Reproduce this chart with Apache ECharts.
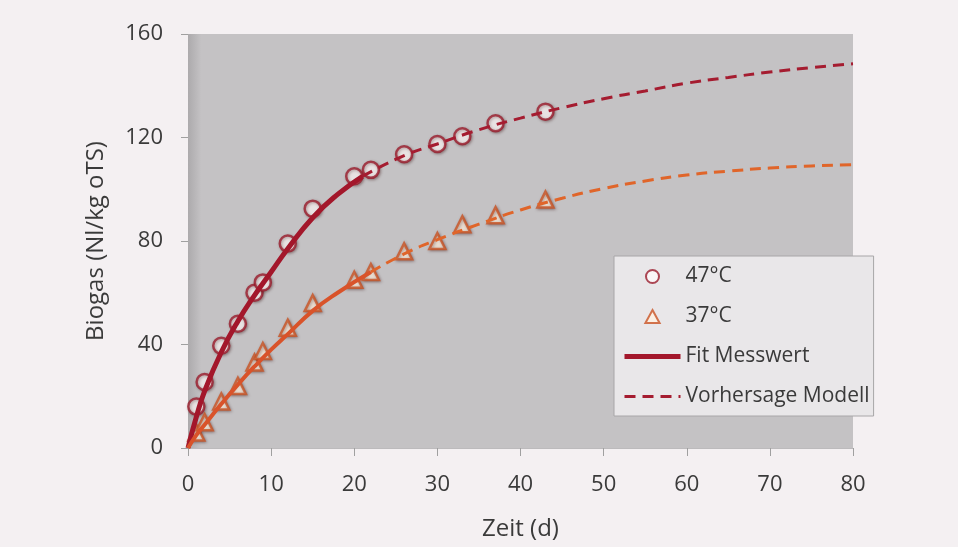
<!DOCTYPE html>
<html>
<head>
<meta charset="utf-8">
<script src="https://cdn.jsdelivr.net/npm/echarts@6/dist/echarts.min.js"></script>
<style>
html, body { margin: 0; padding: 0; background: #f4f0f2; }
#main { width: 958px; height: 547px; }
</style>
</head>
<body>
<div id="main"></div>
<script>
var tage = [1, 2, 4, 6, 8, 9, 12, 15, 20, 22, 26, 30, 33, 37, 43];
var gas47 = [16, 25.5, 39.5, 48, 60, 64, 79, 92.5, 105, 107.5, 113.5, 117.5, 120.5, 125.5, 130];
var gas37 = [6, 10, 18, 24, 33, 37.5, 46.5, 56, 65, 68, 76, 80, 86.5, 90, 96];

// Fit-Kurven
var fitX47 = [0, 1, 2, 4, 6, 8, 10, 12, 15, 18, 21];
var fitY47 = [0, 12, 22, 37, 49, 59, 68, 77, 89, 98, 105];
var fitX37 = [0, 1, 2, 4, 6, 8, 10, 12, 15, 18, 22];
var fitY37 = [0, 5, 9, 17, 24.5, 31.5, 38, 44, 53, 60, 68];

// Modellvorhersage
var modX47 = [21, 26, 30, 35, 40, 45, 50, 55, 60, 65, 70, 75, 80];
var modY47 = [105, 113, 117.5, 123, 127.5, 131.5, 135, 138, 141, 143.2, 145.3, 147, 148.5];
var modX37 = [22, 26, 30, 35, 40, 45, 50, 55, 60, 65, 70, 75, 80];
var modY37 = [68, 75, 80.5, 86.5, 92, 96.5, 100.3, 103.2, 105.5, 107, 108.2, 109, 109.5];

var xTicks = { min: 0, max: 80, interval: 10 };
var yTicks = { min: 0, max: 160, interval: 40 };

function paare(xs, ys) {
    return xs.map(function (x, i) { return [x, ys[i]]; });
}

var schrift = 'Open Sans';
var textFarbe = '#3a3a3a';
var chart = echarts.init(document.getElementById('main'));

var option = {
    backgroundColor: '#f4f0f2',
    animation: false,
    grid: {
        left: 188, right: 105, top: 34, bottom: 99,
        show: true,
        borderWidth: 0,
        backgroundColor: new echarts.graphic.LinearGradient(0, 0, 1, 0, [
            { offset: 0, color: '#acaaac' },
            { offset: 0.02, color: '#c4c2c4' },
            { offset: 1, color: '#c4c2c4' }
        ])
    },
    xAxis: {
        type: 'value',
        min: xTicks.min, max: xTicks.max, interval: xTicks.interval,
        name: 'Zeit (d)',
        nameLocation: 'middle',
        nameGap: 69,
        nameTextStyle: { fontFamily: schrift, fontSize: 24, color: textFarbe },
        axisLine: { show: true, lineStyle: { color: '#bcbabc', width: 1 } },
        axisTick: { show: true, length: 8, lineStyle: { color: '#a0a0a0' } },
        axisLabel: { fontFamily: schrift, fontSize: 22, color: textFarbe, margin: 26 },
        splitLine: { show: false }
    },
    yAxis: {
        type: 'value',
        min: yTicks.min, max: yTicks.max, interval: yTicks.interval,
        name: 'Biogas (Nl/kg oTS)',
        nameLocation: 'middle',
        nameGap: 80,
        nameTextStyle: { fontFamily: schrift, fontSize: 24, color: textFarbe },
        axisLine: { show: false },
        axisTick: { show: true, length: 7, lineStyle: { color: '#a0a0a0' } },
        axisLabel: { fontFamily: schrift, fontSize: 22, color: textFarbe, margin: 25 },
        splitLine: { show: false }
    },
    legend: {
        orient: 'vertical',
        left: 614, top: 256,
        padding: [10, 4, 9, 8],
        itemWidth: 56, itemHeight: 13, itemGap: 19,
        backgroundColor: '#e9e7e9',
        borderColor: '#a8a6a8', borderWidth: 1,
        textStyle: { fontFamily: schrift, fontSize: 21, color: textFarbe },
        data: [
            { name: '47°C' },
            { name: '37°C', icon: 'path://M6,0L12,11L0,11Z' },
            { name: 'Fit Messwert', itemStyle: { opacity: 0 }, lineStyle: { width: 5 } },
            { name: 'Vorhersage Modell', itemStyle: { opacity: 0 }, lineStyle: { width: 3 } }
        ]
    },
    series: [
        {
            name: 'Vorhersage Modell', type: 'line', smooth: true, symbol: 'none',
            data: paare(modX47, modY47),
            lineStyle: { color: '#a51c30', width: 3, type: [11, 7] },
            itemStyle: { color: '#a51c30' }
        },
        {
            name: 'Modell 37', type: 'line', smooth: true, symbol: 'none',
            data: paare(modX37, modY37),
            lineStyle: { color: '#e0652a', width: 3, type: [11, 7] },
            itemStyle: { color: '#e0652a' }
        },
        {
            name: 'Fit Messwert', type: 'line', smooth: true, symbol: 'none',
            data: paare(fitX47, fitY47),
            lineStyle: { color: '#a3172b', width: 5 },
            itemStyle: { color: '#a3172b' }
        },
        {
            name: 'Fit 37', type: 'line', smooth: true, symbol: 'none',
            data: paare(fitX37, fitY37),
            lineStyle: { color: '#d9532a', width: 4 },
            itemStyle: { color: '#d9532a' }
        },
        {
            name: '47°C', type: 'scatter', symbol: 'circle', symbolSize: 16,
            data: paare(tage, gas47),
            itemStyle: {
                color: '#fefafa', borderColor: '#9a1c2c', borderWidth: 2.5,
                shadowBlur: 3, shadowColor: 'rgba(60,20,20,0.45)', shadowOffsetX: 1, shadowOffsetY: 1
            }
        },
        {
            name: '37°C', type: 'scatter', symbol: 'triangle', symbolSize: 16,
            symbolKeepAspect: true,
            data: paare(tage, gas37),
            itemStyle: {
                color: '#fff3e2', borderColor: '#c95424', borderWidth: 2.5,
                shadowBlur: 3, shadowColor: 'rgba(60,20,20,0.45)', shadowOffsetX: 1, shadowOffsetY: 1
            }
        }
    ]
};

chart.setOption(option);
</script>
</body>
</html>
